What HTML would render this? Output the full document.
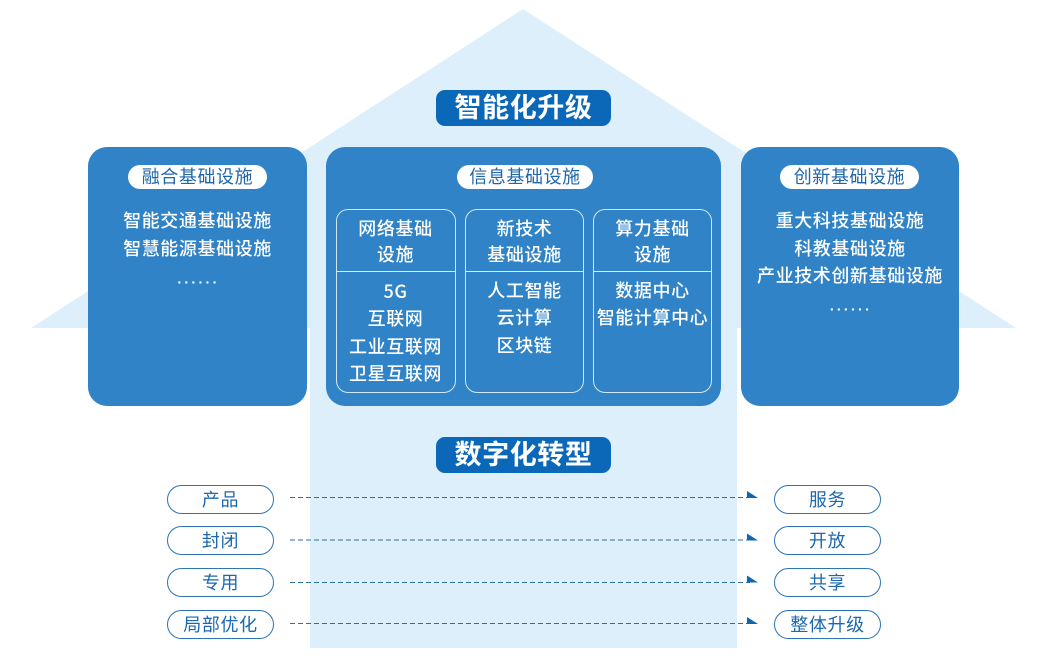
<!DOCTYPE html>
<html lang="zh-CN">
<head>
<meta charset="utf-8">
<title>智能化升级与数字化转型</title>
<style>
html,body{margin:0;padding:0;background:#fff}
#c{position:relative;width:1051px;height:658px;overflow:hidden;background:#fff;font-family:"Liberation Sans","Noto Sans CJK SC",sans-serif}
#c svg{position:absolute;left:0;top:0}
.b{position:absolute;box-sizing:border-box}
.box{background:#3083c6;border-radius:19px;top:147px;height:259px}
.head{left:436px;width:175px;height:36px;background:#0b68b8;border-radius:9px;color:#fff;font-size:27px;font-weight:700;line-height:37px;text-align:center;letter-spacing:.6px}
.pill{top:165px;height:24px;background:#fff;border-radius:12px;color:#1f66ab;font-size:18px;line-height:25px;text-align:center;letter-spacing:.6px}
.t{position:absolute;color:#fff;font-size:18px;line-height:27.5px;text-align:center;letter-spacing:.6px;white-space:nowrap;font-weight:500}
.in{top:208.5px;width:119.5px;height:184.5px;border:1.5px solid #d5e7f4;border-radius:12px}
.ln{position:absolute;left:0;right:0;top:61px;height:1.5px;background:#dcebf6}
.o{width:107px;height:29px;background:#fff;border:1.5px solid #2c74b5;border-radius:15px;color:#1b68b0;font-size:18px;line-height:28px;text-align:center;letter-spacing:.6px}
.dots{letter-spacing:2.4px;font-size:14px;font-weight:700}
</style>
</head>
<body>
<div id="c">
<svg width="1051" height="658" viewBox="0 0 1051 658">
<polygon points="523,9 1016,328 737,328 737,648 310,648 310,328 31,328" fill="#ddeffa"/>
</svg>

<div class="b head" style="top:90px">智能化升级</div>

<div class="b box" style="left:88px;width:219px"></div>
<div class="b box" style="left:326px;width:395px"></div>
<div class="b box" style="left:741px;width:218px"></div>

<div class="b pill" style="left:128px;width:139px">融合基础设施</div>
<div class="b pill" style="left:457px;width:136px">信息基础设施</div>
<div class="b pill" style="left:780px;width:139px">创新基础设施</div>

<div class="t" style="left:88px;width:219px;top:208.4px">智能交通基础设施<br>智慧能源基础设施</div>
<div class="t dots" style="left:89px;width:219px;top:269px">······</div>

<div class="t" style="left:741px;width:218px;top:208.4px">重大科技基础设施<br>科教基础设施<br>产业技术创新基础设施</div>
<div class="t dots" style="left:742px;width:218px;top:296px">······</div>

<div class="b in" style="left:336px"><div class="ln"></div></div>
<div class="b in" style="left:464.5px"><div class="ln"></div></div>
<div class="b in" style="left:592.5px"><div class="ln"></div></div>

<div class="t" style="left:336px;width:119px;top:216.2px;line-height:26px">网络基础<br>设施</div>
<div class="t" style="left:465px;width:119px;top:216.2px;line-height:26px">新技术<br>基础设施</div>
<div class="t" style="left:593px;width:119px;top:216.2px;line-height:26px">算力基础<br>设施</div>

<div class="t" style="left:336px;width:119px;top:277.6px;font-family:'Noto Sans CJK SC',sans-serif">5G<br>互联网<br>工业互联网<br>卫星互联网</div>
<div class="t" style="left:465px;width:119px;top:277.6px">人工智能<br>云计算<br>区块链</div>
<div class="t" style="left:593px;width:119px;top:277.6px">数据中心<br>智能计算中心</div>

<div class="b head" style="top:437px">数字化转型</div>

<div class="b o" style="left:167px;top:485px">产品</div>
<div class="b o" style="left:167px;top:526px">封闭</div>
<div class="b o" style="left:167px;top:568px">专用</div>
<div class="b o" style="left:167px;top:610px">局部优化</div>

<div class="b o" style="left:774px;top:485px">服务</div>
<div class="b o" style="left:774px;top:526px">开放</div>
<div class="b o" style="left:774px;top:568px">共享</div>
<div class="b o" style="left:774px;top:610px">整体升级</div>

<svg width="1051" height="658" viewBox="0 0 1051 658">
<g stroke="#2f7298" stroke-width="1" stroke-dasharray="5 3" fill="none">
<line x1="290" y1="497.5" x2="750" y2="497.5"/>
<line x1="290" y1="540" x2="750" y2="540"/>
<line x1="290" y1="582.5" x2="750" y2="582.5"/>
<line x1="290" y1="623.5" x2="750" y2="623.5"/>
</g>
<g fill="#0f67b0">
<polygon points="747,491 758,498 747,498"/>
<polygon points="747,533.5 758,540.5 747,540.5"/>
<polygon points="747,575.5 758,582.5 747,582.5"/>
<polygon points="747,617 758,624 747,624"/>
</g>
</svg>
</div>
</body>
</html>
